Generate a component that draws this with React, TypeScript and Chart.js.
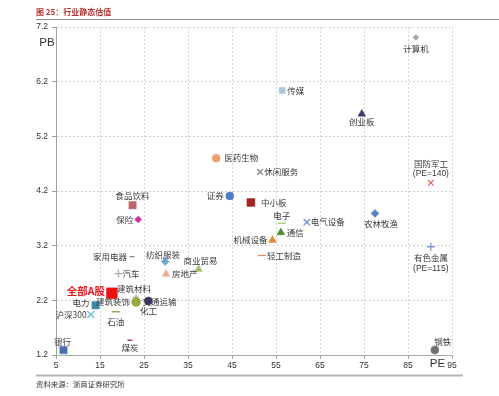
import React, { useEffect, useRef } from "react";
import { Chart, registerables } from "chart.js";

Chart.register(...registerables);

// ---- data ----
const industries = [
  "计算机", "传媒", "创业板", "医药生物", "休闲服务", "国防军工", "证券", "中小板",
  "食品饮料", "保险", "农林牧渔", "电子", "电气设备", "通信", "机械设备", "轻工制造",
  "有色金属", "钢铁", "家用电器", "纺织服装", "商业贸易", "汽车", "房地产", "全部A股",
  "建筑材料", "建筑装饰", "交通运输", "化工", "电力", "沪深300", "石油", "煤炭", "银行",
];
const peValues = [
  86.8, 56.4, 74.5, 41.4, 51.4, 90.2, 44.5, 49.3,
  22.4, 23.7, 77.5, 56.3, 62.0, 56.1, 54.2, 51.8,
  90.2, 91.1, 22.3, 29.8, 37.4, 19.2, 30.0, 17.7,
  23.2, 23.2, 26.0, 26.0, 14.0, 12.9, 18.6, 21.8, 6.7,
];
const pbValues = [
  7.01, 6.04, 5.61, 4.80, 4.55, 4.35, 4.11, 3.99,
  3.94, 3.68, 3.79, 3.61, 3.63, 3.44, 3.30, 3.02,
  3.18, 1.29, 3.00, 2.91, 2.77, 2.69, 2.68, 2.33,
  2.26, 2.17, 2.19, 2.19, 2.11, 1.94, 1.99, 1.47, 1.29,
];
// actual PE for off-scale points
const peNotes = [
  "", "", "", "", "", "(PE=140)", "", "",
  "", "", "", "", "", "", "", "",
  "(PE=115)", "", "", "", "", "", "", "",
  "", "", "", "", "", "", "", "", "",
];
const peTicks = [5, 15, 25, 35, 45, 55, 65, 75, 85, 95];
const pbTicks = [1.2, 2.2, 3.2, 4.2, 5.2, 6.2, 7.2];
const titleText = "图 25：行业静态估值";
const sourceText = "资料来源：浙商证券研究所";
const highlighted = ["全部A股"];

// ---- styles (not data) ----
const markerStyles = [
  "rectRot", "rect", "triangle", "circle", "crossRot", "crossRot", "circle", "rect",
  "rect", "rectRot", "rectRot", "line", "crossRot", "triangle", "triangle", "line",
  "cross", "circle", "line", "rectRot", "triangle", "cross", "triangle", "rect",
  "cross", "circle", "circle", "rectRot", "rect", "crossRot", "line", "line", "rect",
];
const markerColors = [
  "#a3a3b5", "#a8c8e0", "#3d3b70", "#f0a070", "#8a8a8a", "#e06a6a", "#4a7cc8", "#a02828",
  "#b86868", "#d030a0", "#5a80c0", "#9acd70", "#6a90d0", "#4a8a30", "#e08a30", "#e09060",
  "#7a9ad0", "#707070", "#8a8a8a", "#70a8c8", "#a8c070", "#aaaaaa", "#f0b090", "#ee1111",
  "#b0b0b0", "#98a840", "#3a3a6a", "#3a3a6a", "#3a8aa8", "#70b8d8", "#8a9a40", "#8a3030", "#4a70b0",
];
const markerRadius = [
  3, 4.3, 4.5, 4, 4, 4, 4, 5.6,
  5.2, 3.5, 4, 4, 4.5, 4.5, 4.5, 4,
  4, 4, 2.5, 4, 4.5, 4, 4.5, 7.6,
  3, 4.5, 4, 2.5, 5.2, 5, 4, 2.5, 5.2,
];
// label placement: [side, dx, dy]
const labelPlacement: [string, number, number][] = [
  ["b", 0, 11], ["r", 5, 0], ["b", 0, 8], ["r", 8, 0], ["r", 4, 0], ["t", 0, -8.7], ["l", -6, 0], ["r", 10, 0],
  ["t", 0, -9], ["l", -5, 0], ["b", 6, 10], ["t", 0, -7], ["r", 4, 0], ["r", 6, 0], ["l", -5, 0], ["r", 5, 0],
  ["b", 0, 11.3], ["t", 8, -8], ["l", -5, 0], ["t", -2, -7], ["t", 2, -8], ["r", 4, 0], ["r", 6, 0], ["l", -7, -2],
  ["t", -2, -8], ["l", -6, 0], ["r", -6, 1], ["b", 0, 10], ["l", -6, -2], ["l", -4, 0], ["b", 0, 10], ["b", 0, 8], ["t", -1, -8],
];

const CJK = '"Noto Sans CJK SC", sans-serif';
const SANS = '"Liberation Sans", Arial, sans-serif';

const decorPlugin = {
  id: "decor",
  afterDraw(chart: any) {
    const ctx = chart.ctx as CanvasRenderingContext2D;
    const meta = chart.getDatasetMeta(0);
    ctx.save();
    // labels
    meta.data.forEach((pt: any, i: number) => {
      const [side, dx, dy] = labelPlacement[i];
      const lines = peNotes[i] ? [industries[i], peNotes[i]] : [industries[i]];
      const hl = highlighted.includes(industries[i]);
      ctx.fillStyle = hl ? "#e8141c" : "#3a3a3a";
      ctx.textBaseline = "middle";
      const lh = 10.7;
      lines.forEach((line, k) => {
        const isNote = k > 0;
        ctx.font = hl
          ? `bold 10.5px ${CJK}`
          : isNote
          ? `8.5px ${SANS}`
          : `8.5px ${CJK}`;
        const x = pt.x + dx;
        let y = pt.y + dy + k * lh;
        if (side === "t") y = pt.y + dy - (lines.length - 1 - k) * lh;
        ctx.textAlign = side === "r" ? "left" : side === "l" ? "right" : "center";
        ctx.fillText(line, x, y);
      });
    });
    // axis titles
    const area = chart.chartArea;
    ctx.fillStyle = "#333";
    ctx.font = `11.5px ${SANS}`;
    ctx.textAlign = "center";
    ctx.textBaseline = "middle";
    ctx.fillText("PB", area.left - 9, area.top + 15.5);
    ctx.fillText("PE", area.right - 14.5, area.bottom + 9);
    // title
    ctx.fillStyle = "#b8312f";
    ctx.font = `bold 8px ${CJK}`;
    ctx.textAlign = "left";
    ctx.fillText(titleText, 36, 12);
    ctx.strokeStyle = "#8c8c8c";
    ctx.lineWidth = 1;
    ctx.beginPath();
    ctx.moveTo(36, 19.5);
    ctx.lineTo(499, 19.5);
    ctx.stroke();
    // bottom rule and source
    ctx.strokeStyle = "#b4b4b4";
    ctx.lineWidth = 2;
    ctx.beginPath();
    ctx.moveTo(36, 375.5);
    ctx.lineTo(463, 375.5);
    ctx.stroke();
    ctx.fillStyle = "#333";
    ctx.font = `7.4px ${CJK}`;
    ctx.fillText(sourceText, 36, 384);
    ctx.restore();
  },
};

export default function App() {
  const ref = useRef<HTMLCanvasElement | null>(null);
  useEffect(() => {
    if (!ref.current) return;
    const isLine = (s: string) => s === "line" || s === "cross" || s === "crossRot";
    const chart = new Chart(ref.current, {
      type: "scatter",
      data: {
        datasets: [
          {
            data: peValues.map((x, i) => ({ x, y: pbValues[i] })),
            pointStyle: markerStyles as any,
            pointRadius: markerRadius,
            pointHoverRadius: markerRadius,
            backgroundColor: markerColors,
            borderColor: markerColors,
            borderWidth: markerStyles.map((s) => (isLine(s) ? 1.3 : 0.5)),
          },
        ],
      },
      options: {
        animation: false,
        responsive: false,
        events: [],
        layout: { padding: { top: 27, right: 47, left: 0, bottom: 0 } },
        plugins: { legend: { display: false }, tooltip: { enabled: false } },
        scales: {
          x: {
            type: "linear",
            min: 5,
            max: 95,
            afterBuildTicks: (s: any) => {
              s.ticks = peTicks.map((v) => ({ value: v }));
            },
            afterFit: (s: any) => {
              s.height = 41;
            },
            ticks: {
              color: "#333",
              font: { family: SANS, size: 8.5 },
              padding: 2,
              maxRotation: 0,
              autoSkip: false,
            },
            grid: {
              color: "#d4d4d4",
              lineWidth: 1,
              tickLength: 4,
              tickColor: "#a0a0a0",
              tickBorderDash: [],
            },
            border: { display: true, color: "#a8a8a8", width: 1, dash: [2, 2] },
          },
          y: {
            type: "linear",
            min: 1.2,
            max: 7.2,
            afterBuildTicks: (s: any) => {
              s.ticks = pbTicks.map((v) => ({ value: v }));
            },
            afterFit: (s: any) => {
              s.width = 56;
            },
            ticks: {
              color: "#333",
              font: { family: SANS, size: 8.5 },
              padding: 4,
              autoSkip: false,
              callback: (v: any) => Number(v).toFixed(1),
            },
            grid: {
              color: "#d4d4d4",
              lineWidth: 1,
              tickLength: 4,
              tickColor: "#a0a0a0",
              tickBorderDash: [],
            },
            border: { display: true, color: "#a0a0a0", width: 1, dash: [2, 2] },
          },
        },
      },
      plugins: [decorPlugin],
    });
    return () => chart.destroy();
  }, []);
  return (
    <div style={{ position: "fixed", left: 0, top: 0, width: 499, height: 396, background: "#fff" }}>
      <canvas ref={ref} width={499} height={396} style={{ display: "block" }} />
    </div>
  );
}
